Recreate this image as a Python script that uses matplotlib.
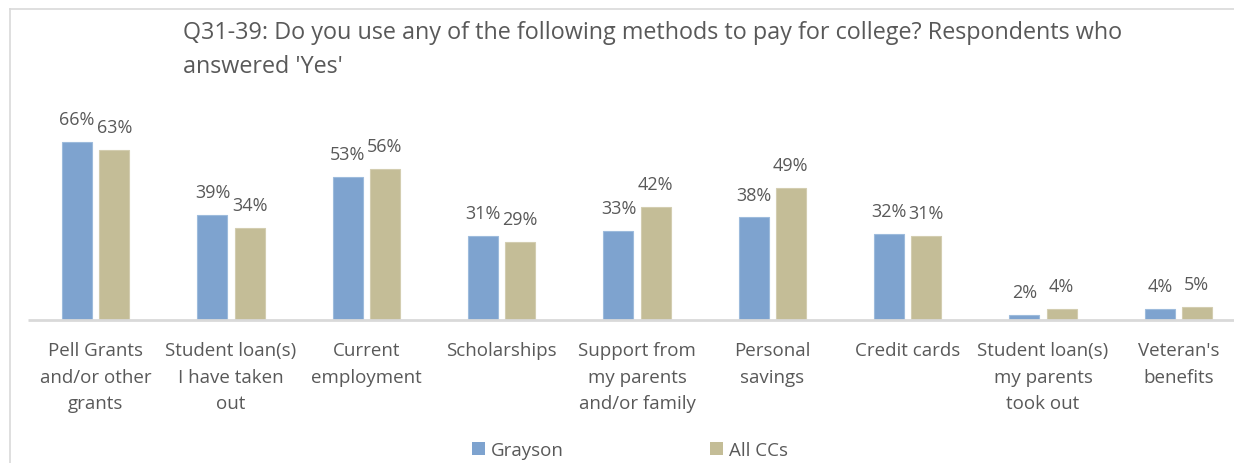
import matplotlib.pyplot as plt
from matplotlib.lines import Line2D
from matplotlib.patches import Patch
import numpy as np

categories = [
    "Pell Grants\nand/or other\ngrants",
    "Student loan(s)\nI have taken\nout",
    "Current\nemployment",
    "Scholarships",
    "Support from\nmy parents\nand/or family",
    "Personal\nsavings",
    "Credit cards",
    "Student loan(s)\nmy parents\ntook out",
    "Veteran's\nbenefits",
]
grayson = [66, 39, 53, 31, 33, 38, 32, 2, 4]
all_ccs = [63, 34, 56, 29, 42, 49, 31, 4, 5]
series_names = ["Grayson", "All CCs"]

BLUE = "#7ea3cf"
TAN = "#c4bd97"
TEXT = "#595959"

plt.rcParams['font.family'] = ['Open Sans', 'DejaVu Sans']

W, H = 1234, 464
fig = plt.figure(figsize=(W / 100, H / 100), dpi=100)
fig.patch.set_facecolor("white")

# axes placed in pixel terms: baseline at y=321, categories 135px apart
left_px, right_px = 28, 1246
base_px = 321
ymax = 75
px_per_unit = 2.7
ax = fig.add_axes([left_px / W, (H - base_px) / H,
                   (right_px - left_px) / W, ymax * px_per_unit / H])
ax.set_xlim(-0.5, len(categories) - 0.5)
ax.set_ylim(0, ymax)
ax.axis("off")

x = np.arange(len(categories))
bw = 0.222
off = 0.137
b1 = ax.bar(x - off, grayson, bw, color=BLUE, edgecolor="#9dbbdc", linewidth=0.8)
b2 = ax.bar(x + off, all_ccs, bw, color=TAN, edgecolor="#d3cdb0", linewidth=0.8)

# baseline
ax.plot([-0.5, len(categories) - 0.5], [0, 0], color="#d9d9d9", lw=2,
        clip_on=False, solid_capstyle="butt")

# value labels above bars
for bars, vals in ((b1, grayson), (b2, all_ccs)):
    for rect, v in zip(bars, vals):
        ax.annotate(f"{v}%", (rect.get_x() + rect.get_width() / 2, v),
                    xytext=(0, 10), textcoords="offset points",
                    ha="center", va="bottom", fontsize=13, color=TEXT,
                    annotation_clip=False)

# category labels
for xi, lab in zip(x, categories):
    ax.annotate(lab, (xi, 0), xytext=(0, -15), textcoords="offset points",
                ha="center", va="top", fontsize=13.5, color=TEXT,
                linespacing=1.62, annotation_clip=False)

fig.text(183 / W, 1 - 21 / H,
         "Q31-39: Do you use any of the following methods to pay for college? Respondents who\nanswered 'Yes'",
         ha="left", va="top", fontsize=16.8, color=TEXT, linespacing=1.55)

handles = [Patch(facecolor=BLUE), Patch(facecolor=TAN)]
fig.legend(handles, series_names, loc="center", bbox_to_anchor=(630 / W, 1 - 451 / H),
           ncol=2, frameon=False, fontsize=13.5, labelcolor=TEXT,
           handlelength=0.7, handleheight=0.7, handletextpad=0.3,
           columnspacing=7.8)

# chart border
fig.add_artist(Line2D([9.5 / W, 9.5 / W], [0, 1 - 9.5 / H], color="#d9d9d9", lw=1.2))
fig.add_artist(Line2D([9.5 / W, 1], [1 - 9.5 / H, 1 - 9.5 / H], color="#d9d9d9", lw=1.2))

fig.savefig("out.png", dpi=100)
